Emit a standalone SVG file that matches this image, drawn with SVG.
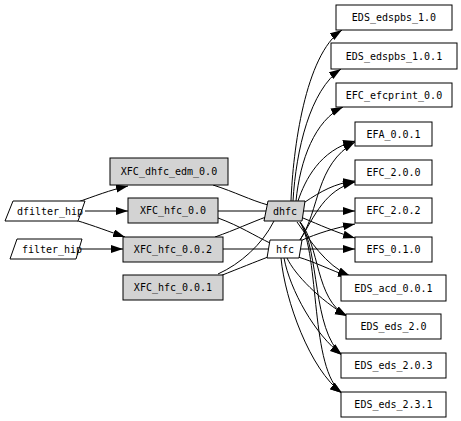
<svg xmlns="http://www.w3.org/2000/svg" width="461" height="421" viewBox="0 0 461 421">
<style>
rect.w, rect.g, polygon.n { stroke:#000; stroke-width:1; }
.w { fill:#fff; }
.g { fill:#d3d3d3; }
text { font-family:"DejaVu Sans Mono","Liberation Mono",monospace; font-size:10px; text-anchor:middle; fill:#000; }
#edges path { fill:none; stroke:#000; stroke-width:1; }
#edges path.a { marker-end:url(#ah); }
</style>
<defs>
<marker id="ah" markerUnits="userSpaceOnUse" markerWidth="13" markerHeight="9" refX="12" refY="4" orient="auto">
<path d="M0,0 L12,4 L0,8 z" fill="#000"/>
</marker>
</defs>
<rect width="461" height="421" fill="#fff"/>
<g id="edges">
<path class="a" d="M75,203 C95,196 110,190 128,186"/>
<path class="a" d="M85,211 L128,211"/>
<path class="a" d="M75,220 C95,226 110,232 125,237"/>
<path class="a" d="M80,249 L123,249"/>
<path d="M213,185 C235,192 250,200 268,205"/>
<path d="M218,211 L267,211"/>
<path d="M218,218 C240,226 255,236 270,243"/>
<path d="M215,237 C235,230 252,222 266,217"/>
<path d="M223,249 L269,249"/>
<path d="M218,274 C240,264 262,245 274,221"/>
<path d="M220,276 C240,268 255,262 268,257"/>
<path class="a" d="M291,201 C293,150 305,55 342,30"/>
<path class="a" d="M293,201 C296,150 310,90 341,69"/>
<path class="a" d="M296,201 C300,160 315,120 343,107"/>
<path class="a" d="M298,201 C305,180 320,150 355,141"/>
<path class="a" d="M305,202 C320,192 335,183 355,181"/>
<path class="a" d="M303,211 L355,211"/>
<path class="a" d="M303,218 C320,225 335,232 355,238"/>
<path class="a" d="M297,222 C310,240 325,265 350,276"/>
<path class="a" d="M300,222 C320,245 315,300 347,316"/>
<path class="a" d="M300,222 C320,250 312,330 342,355"/>
<path class="a" d="M300,222 C320,255 310,370 342,393"/>
<path class="a" d="M300,240 C320,210 315,165 355,142"/>
<path class="a" d="M300,240 C315,215 325,190 355,182"/>
<path class="a" d="M300,241 C318,233 335,228 355,224"/>
<path class="a" d="M300,249 L355,249"/>
<path class="a" d="M298,257 C315,262 330,270 350,277"/>
<path class="a" d="M287,258 C295,275 320,300 347,316"/>
<path class="a" d="M284,258 C290,290 315,335 342,355"/>
<path class="a" d="M281,258 C285,300 310,370 342,393"/>
</g>
<g id="n_dfilter_hip"><polygon class="n w" points="13,201 85,201 78,221 5,221"/><text x="50" y="214.5">dfilter_hip</text></g>
<g id="n_filter_hip"><polygon class="n w" points="17,239 82,239 76,259 10,259"/><text x="52" y="252.5">filter_hip</text></g>
<g id="n_XFC_dhfc_edm_0_0"><rect class="g" x="110" y="158" width="118" height="27"/><text x="169" y="175">XFC_dhfc_edm_0.0</text></g>
<g id="n_XFC_hfc_0_0"><rect class="g" x="128" y="198" width="90" height="25"/><text x="173" y="214">XFC_hfc_0.0</text></g>
<g id="n_XFC_hfc_0_0_2"><rect class="g" x="123" y="237" width="100" height="25"/><text x="173" y="253">XFC_hfc_0.0.2</text></g>
<g id="n_XFC_hfc_0_0_1"><rect class="g" x="123" y="275" width="100" height="25"/><text x="173" y="291">XFC_hfc_0.0.1</text></g>
<g id="n_dhfc"><polygon class="n g" points="268,201 305,201 302,221 264,221"/><text x="285" y="214.5">dhfc</text></g>
<g id="n_hfc"><polygon class="n w" points="270,240 302,240 299,258 267,258"/><text x="285" y="252.5">hfc</text></g>
<g id="n_EDS_edspbs_1_0"><rect class="w" x="336" y="5" width="116" height="25"/><text x="394" y="21">EDS_edspbs_1.0</text></g>
<g id="n_EDS_edspbs_1_0_1"><rect class="w" x="331" y="43" width="126" height="26"/><text x="394" y="59.5">EDS_edspbs_1.0.1</text></g>
<g id="n_EFC_efcprint_0_0"><rect class="w" x="336" y="83" width="116" height="24"/><text x="394" y="98.5">EFC_efcprint_0.0</text></g>
<g id="n_EFA_0_0_1"><rect class="w" x="355" y="122" width="77" height="24"/><text x="393.5" y="137.5">EFA_0.0.1</text></g>
<g id="n_EFC_2_0_0"><rect class="w" x="355" y="160" width="77" height="25"/><text x="393.5" y="176">EFC_2.0.0</text></g>
<g id="n_EFC_2_0_2"><rect class="w" x="355" y="198" width="77" height="25"/><text x="393.5" y="214">EFC_2.0.2</text></g>
<g id="n_EFS_0_1_0"><rect class="w" x="355" y="237" width="77" height="25"/><text x="393.5" y="253">EFS_0.1.0</text></g>
<g id="n_EDS_acd_0_0_1"><rect class="w" x="341" y="275" width="105" height="26"/><text x="393.5" y="291.5">EDS_acd_0.0.1</text></g>
<g id="n_EDS_eds_2_0"><rect class="w" x="346" y="314" width="95" height="25"/><text x="393.5" y="330">EDS_eds_2.0</text></g>
<g id="n_EDS_eds_2_0_3"><rect class="w" x="341" y="353" width="105" height="25"/><text x="393.5" y="369">EDS_eds_2.0.3</text></g>
<g id="n_EDS_eds_2_3_1"><rect class="w" x="341" y="392" width="105" height="25"/><text x="393.5" y="408">EDS_eds_2.3.1</text></g>
</svg>
